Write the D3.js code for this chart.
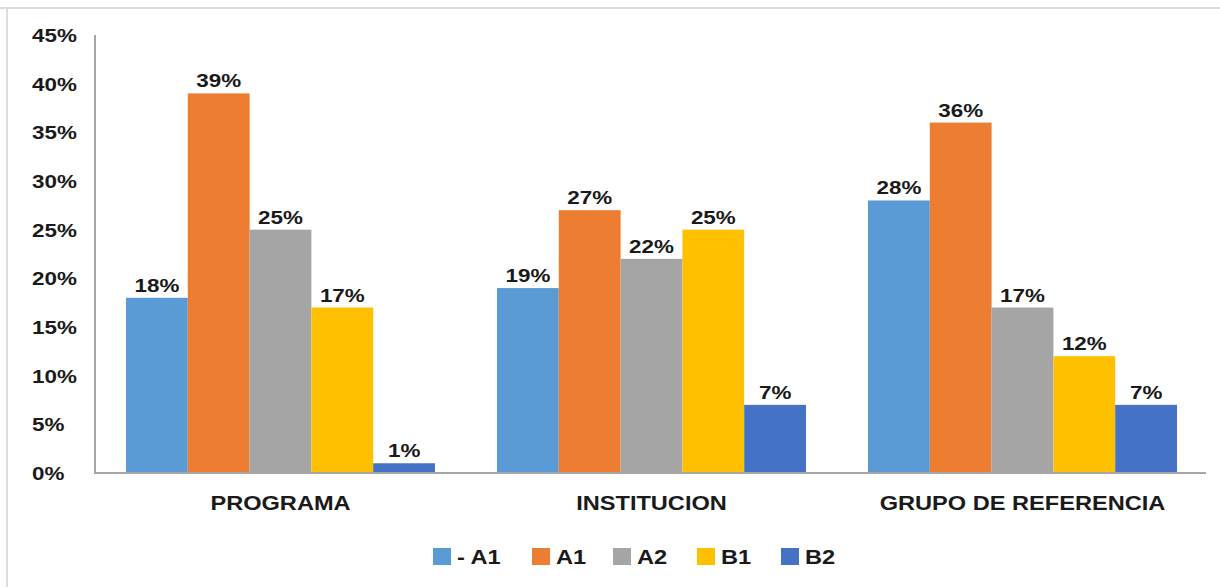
<!DOCTYPE html>
<html>
<head>
<meta charset="utf-8">
<script src="https://cdn.jsdelivr.net/npm/d3@7"></script>
<style>
  body { margin: 0; background: #fff; }
  text { font-family: "Liberation Sans", Arial, sans-serif; font-weight: bold; fill: #1a1a1a; }
</style>
</head>
<body>
<svg id="chart" width="1220" height="587"></svg>
<script>
// data
const categories = ["PROGRAMA", "INSTITUCION", "GRUPO DE REFERENCIA"];
const series = ["- A1", "A1", "A2", "B1", "B2"];
const programa = [18, 39, 25, 17, 1];
const institucion = [19, 27, 22, 25, 7];
const grupo = [28, 36, 17, 12, 7];
const yTicks = [0, 5, 10, 15, 20, 25, 30, 35, 40, 45];
const colors = ["#5B9BD5", "#ED7D31", "#A5A5A5", "#FFC000", "#4472C4"];

const values = [programa, institucion, grupo];
const stretch = 1.18; // the picture is a bit wider than normal text

const svg = d3.select("#chart");

// frame of the original image
svg.append("line").attr("x1", 0).attr("x2", 1220).attr("y1", 8).attr("y2", 8)
  .attr("stroke", "#dcdcdc").attr("stroke-width", 2);
svg.append("line").attr("x1", 7).attr("x2", 7).attr("y1", 8).attr("y2", 587)
  .attr("stroke", "#dcdcdc").attr("stroke-width", 2);

const x0 = d3.scaleBand().domain(categories).range([95, 1208]);
const x1 = d3.scaleBand().domain(series).range([31, x0.bandwidth() - 31]);
const y = d3.scaleLinear().domain([0, 45]).range([473, 35]);
const color = d3.scaleOrdinal().domain(series).range(colors);

function label(g, x, yy, txt, size, anchor) {
  return g.append("text")
    .attr("transform", `translate(${x},${yy}) scale(${stretch},1)`)
    .attr("text-anchor", anchor || "middle")
    .attr("font-size", size)
    .text(txt);
}

// y tick labels (left aligned like the source)
yTicks.forEach(t => {
  label(svg, 32, y(t) + 7, t + "%", 19, "start");
});

// bars
categories.forEach((c, ci) => {
  const g = svg.append("g").attr("transform", `translate(${x0(c)},0)`);
  g.selectAll("rect").data(values[ci]).join("rect")
    .attr("x", (d, i) => x1(series[i]))
    .attr("width", x1.bandwidth())
    .attr("y", d => y(d))
    .attr("height", d => y(0) - y(d))
    .attr("fill", (d, i) => color(series[i]));
  values[ci].forEach((d, i) => {
    label(g, x1(series[i]) + x1.bandwidth() / 2, y(d) - 6, d + "%", 19);
  });
  label(svg, x0(c) + x0.bandwidth() / 2, 510, c, 20);
});

// axes lines
svg.append("line").attr("x1", 95).attr("x2", 95).attr("y1", y(45)).attr("y2", y(0))
  .attr("stroke", "#a6a6a6").attr("stroke-width", 2);
svg.append("line").attr("x1", 94).attr("x2", 1206).attr("y1", y(0)).attr("y2", y(0))
  .attr("stroke", "#a6a6a6").attr("stroke-width", 2);

// legend
const legendX = [433, 532, 613, 697, 781];
series.forEach((s, i) => {
  svg.append("rect").attr("x", legendX[i]).attr("y", 548).attr("width", 18).attr("height", 17)
    .attr("fill", color(s));
  label(svg, legendX[i] + 24, 564, s, 20, "start");
});
</script>
</body>
</html>
